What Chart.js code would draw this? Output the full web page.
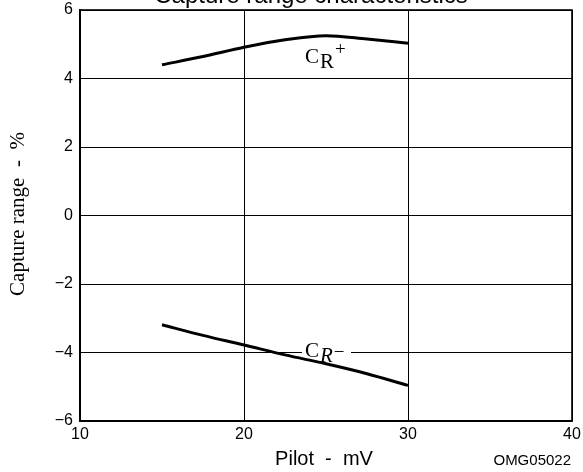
<!DOCTYPE html>
<html><head><meta charset="utf-8">
<script src="https://cdn.jsdelivr.net/npm/chart.js@4.4.0/dist/chart.umd.min.js"></script>
<style>html,body{margin:0;padding:0;background:#fff;overflow:hidden}canvas{display:block}</style>
</head><body>
<canvas id="c" width="583" height="472"></canvas>
<script>
const pilotMV = [15, 17.5, 20, 22.5, 25, 27.5, 30];
const crPlus  = [4.40, 4.64, 4.91, 5.13, 5.25, 5.15, 5.03];
const crMinus = [-3.19, -3.50, -3.78, -4.07, -4.33, -4.62, -4.96];
const xTicks = [10, 20, 30, 40];
const yTicks = [-6, -4, -2, 0, 2, 4, 6];
const titleText = 'Capture range characteristics';
const xTitle = 'Pilot  -  mV';
const yTitle = 'Capture range  -  %';
const figCode = 'OMG05022';

const SANS = '"Liberation Sans", Arial, sans-serif';
const SERIF = '"Liberation Serif", "Times New Roman", serif';

function pts(xs, ys){ return xs.map((x,i)=>({x:x, y:ys[i]})); }

function drawCR(ctx, x, y, sup, italicR, supDy){
  ctx.fillStyle = '#000';
  ctx.textBaseline = 'alphabetic';
  ctx.textAlign = 'left';
  ctx.font = '21px ' + SERIF;
  ctx.fillText('C', x, y);
  let w = ctx.measureText('C').width;
  ctx.font = (italicR ? 'italic ' : '') + '21px ' + SERIF;
  ctx.fillText('R', x + w + 1, y + 5);
  let w2 = ctx.measureText('R').width;
  ctx.font = '19px ' + SERIF;
  ctx.fillText(sup, x + w + w2 + 2, y + supDy);
}

const textPlugin = {
  id: 'texts',
  beforeDatasetsDraw(chart){
    const {ctx} = chart;
    const ys = chart.scales.y;
    ctx.save();
    ctx.fillStyle = '#fff';
    ctx.fillRect(302, ys.getPixelForValue(-4) - 9, 49, 18);
    ctx.restore();
  },
  afterDraw(chart){
    const {ctx, chartArea:a} = chart;
    ctx.save();
    ctx.strokeStyle = '#000';
    ctx.lineWidth = 1.6;
    ctx.strokeRect(a.left, a.top, a.right - a.left, a.bottom - a.top);
    ctx.fillStyle = '#000';
    ctx.font = '24px ' + SANS;
    ctx.textAlign = 'center';
    ctx.textBaseline = 'alphabetic';
    ctx.fillText(titleText, 311, 3);
    ctx.font = '20px ' + SANS;
    ctx.fillText(xTitle, 324, 465);
    ctx.font = '15px ' + SANS;
    ctx.textAlign = 'right';
    ctx.fillText(figCode, 571, 465);
    ctx.save();
    ctx.translate(24, 214);
    ctx.rotate(-Math.PI/2);
    ctx.textAlign = 'center';
    ctx.font = '21px ' + SERIF;
    ctx.fillText(yTitle, 0, 0);
    ctx.restore();
    drawCR(ctx, 305, 63, '+', false, -8);
    drawCR(ctx, 305, 357, '\u2212', true, 1);
    ctx.restore();
  }
};

new Chart(document.getElementById('c'), {
  type: 'line',
  data: {
    datasets: [
      { label: 'CR+', data: pts(pilotMV, crPlus), borderColor: '#000', borderWidth: 3, pointRadius: 0, cubicInterpolationMode: 'monotone', fill: false },
      { label: 'CR-', data: pts(pilotMV, crMinus), borderColor: '#000', borderWidth: 3, pointRadius: 0, cubicInterpolationMode: 'monotone', fill: false }
    ]
  },
  options: {
    responsive: false,
    animation: false,
    devicePixelRatio: 1,
    layout: { padding: { top: 10, right: 11, left: 0, bottom: 0 } },
    plugins: { legend: { display: false }, tooltip: { enabled: false }, title: { display: false } },
    scales: {
      x: {
        type: 'linear', min: 10, max: 40,
        afterBuildTicks(s){ s.ticks = xTicks.map(v=>({value:v})); },
        afterFit(s){ s.height = 51; s.paddingLeft = 0; s.paddingRight = 0; },
        grid: { color: '#000', lineWidth: 1, drawTicks: false },
        border: { color: '#000', width: 1.6 },
        ticks: { color: '#000', font: { family: SANS, size: 16 }, padding: 4, maxRotation: 0 }
      },
      y: {
        type: 'linear', min: -6, max: 6,
        afterBuildTicks(s){ s.ticks = yTicks.map(v=>({value:v})); },
        afterFit(s){ s.width = 80; s.paddingTop = 0; s.paddingBottom = 0; },
        grid: { color: '#000', lineWidth: 1, drawTicks: false },
        border: { color: '#000', width: 1.6 },
        ticks: { color: '#000', font: { family: SANS, size: 16 }, padding: 7,
          callback: v => String(v).replace('-', '\u2212') }
      }
    }
  },
  plugins: [textPlugin]
});
</script>
</body></html>
